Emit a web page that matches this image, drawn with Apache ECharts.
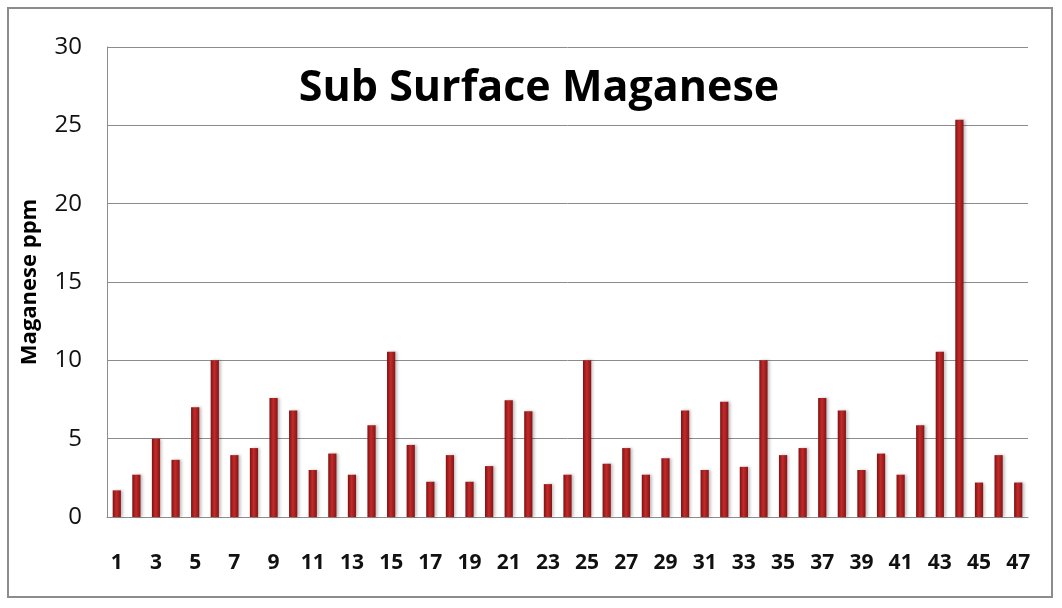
<!DOCTYPE html>
<html>
<head>
<meta charset="utf-8">
<script src="https://cdn.jsdelivr.net/npm/echarts@6/dist/echarts.min.js"></script>
<style>
  html, body { margin: 0; padding: 0; background: #fff; }
  #frame { position: absolute; left: 7px; top: 7px; width: 1046px; height: 591px; border: 2px solid #8c8c8c; box-sizing: border-box; }
  #chart { width: 1062px; height: 608px; }
</style>
</head>
<body>
<div id="frame"></div>
<div id="chart"></div>
<script>
  // sample numbers 1..47
  var sites = ['1','2','3','4','5','6','7','8','9','10','11','12','13','14','15','16','17','18','19','20',
    '21','22','23','24','25','26','27','28','29','30','31','32','33','34','35','36','37','38','39','40',
    '41','42','43','44','45','46','47'];
  // manganese ppm
  var manganese = [1.7, 2.7, 5.0, 3.65, 7.0, 10.0, 3.95, 4.4, 7.6, 6.8,
    3.0, 4.05, 2.7, 5.85, 10.55, 4.6, 2.25, 3.95, 2.25, 3.25,
    7.45, 6.75, 2.1, 2.7, 10.0, 3.4, 4.4, 2.7, 3.75, 6.8,
    3.0, 7.35, 3.2, 10.0, 3.95, 4.4, 7.6, 6.8, 3.0, 4.05,
    2.7, 5.85, 10.55, 25.35, 2.2, 3.95, 2.2];
  var yTicks = [0, 5, 10, 15, 20, 25, 30];

  var myChart = echarts.init(document.getElementById('chart'));
  var option = {
    animation: false,
    title: {
      text: 'Sub Surface Maganese',
      left: 534,
      top: 62,
      textAlign: 'center',
      textStyle: { fontFamily: 'Open Sans', fontWeight: 'bold', fontSize: 43, color: '#000' }
    },
    grid: { left: 107, right: 34, top: 47, bottom: 91, containLabel: false },
    xAxis: {
      type: 'category',
      data: sites,
      axisLine: { show: true, lineStyle: { color: '#8c8c8c', width: 1 } },
      axisTick: { show: false },
      axisLabel: {
        interval: 1,
        margin: 36,
        fontFamily: 'Open Sans',
        fontWeight: 'bold',
        fontSize: 21,
        color: '#111'
      }
    },
    yAxis: {
      type: 'value',
      min: yTicks[0],
      max: yTicks[yTicks.length - 1],
      interval: 5,
      name: 'Maganese ppm',
      nameLocation: 'middle',
      nameGap: 66,
      nameRotate: 90,
      nameTextStyle: { fontFamily: 'Open Sans', fontWeight: 'bold', fontSize: 22, color: '#000' },
      axisLine: { show: true, lineStyle: { color: '#8c8c8c', width: 1 } },
      axisTick: { show: false },
      splitLine: { lineStyle: { color: '#8c8c8c', width: 1 } },
      axisLabel: {
        margin: 25,
        fontFamily: 'Open Sans',
        fontSize: 24,
        color: '#111'
      }
    },
    series: [{
      type: 'bar',
      data: manganese,
      barWidth: '42%',
      itemStyle: {
        color: new echarts.graphic.LinearGradient(0, 0, 1, 0, [
          { offset: 0, color: '#7d1212' },
          { offset: 0.45, color: '#c42a2a' },
          { offset: 1, color: '#861414' }
        ]),
        shadowColor: 'rgba(0,0,0,0.25)',
        shadowBlur: 3,
        shadowOffsetX: 2
      }
    }]
  };
  myChart.setOption(option);
</script>
</body>
</html>
